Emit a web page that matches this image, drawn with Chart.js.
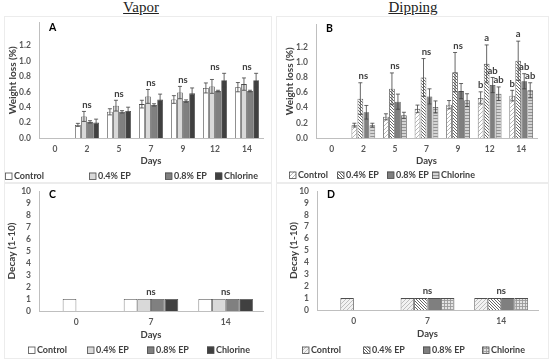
<!DOCTYPE html>
<html>
<head>
<meta charset="utf-8">
<script src="https://cdn.jsdelivr.net/npm/chart.js@4.4.0/dist/chart.umd.min.js"></script>
<style>
body{margin:0;width:550px;height:360px;background:#fff;position:relative;overflow:hidden;font-family:Lato,sans-serif}
.ttl{position:absolute;top:-1px;font:15px 'Liberation Serif',serif;text-decoration:underline;color:#222;transform:translateX(-50%)}
.box{position:absolute;border:1px solid #ececec;box-sizing:border-box}
.wrap{position:absolute}
</style>
</head>
<body>
<div class="ttl" style="left:141px">Vapor</div>
<div class="ttl" style="left:413px">Dipping</div>
<div class="box" style="left:4px;top:16px;width:268px;height:167px"></div>
<div class="box" style="left:276px;top:16px;width:273px;height:167px"></div>
<div class="box" style="left:4px;top:183px;width:268px;height:176px"></div>
<div class="box" style="left:276px;top:183px;width:273px;height:176px"></div>
<div class="wrap" style="left:5px;top:17px;width:266px;height:165px"><canvas id="cA"></canvas></div>
<div class="wrap" style="left:277px;top:17px;width:271px;height:165px"><canvas id="cB"></canvas></div>
<div class="wrap" style="left:5px;top:184px;width:266px;height:174px"><canvas id="cC"></canvas></div>
<div class="wrap" style="left:277px;top:184px;width:271px;height:174px"><canvas id="cD"></canvas></div>
<script>
// ── DATA ─────────────────────────────────────
const days = ['0', '2', '5', '7', '9', '12', '14'];
const decayDays = ['0', '7', '14'];
const seriesNames = ['Control', '0.4% EP', '0.8% EP', 'Chlorine'];

// A — vapor, weight loss (%)
const vapControl = [0, 0.17, 0.34, 0.44, 0.50, 0.65, 0.66];
const vapEP04    = [0, 0.28, 0.42, 0.54, 0.59, 0.67, 0.70];
const vapEP08    = [0, 0.21, 0.34, 0.43, 0.48, 0.61, 0.61];
const vapChlor   = [0, 0.20, 0.35, 0.50, 0.58, 0.75, 0.75];
const vapControlErr = [0, 0.02, 0.04, 0.05, 0.05, 0.065, 0.06];
const vapEP04Err    = [0, 0.065, 0.07, 0.09, 0.08, 0.09, 0.08];
const vapEP08Err    = [0, 0.015, 0.015, 0.015, 0.015, 0.01, 0.01];
const vapChlorErr   = [0, 0.045, 0.05, 0.07, 0.07, 0.09, 0.09];
const vapSig = ['', 'ns', 'ns', 'ns', 'ns', 'ns', 'ns'];

// B — dipping, weight loss (%)
const dipControl = [0, 0.17, 0.28, 0.385, 0.44, 0.53, 0.56];
const dipEP04    = [0, 0.52, 0.65, 0.80, 0.87, 0.98, 1.02];
const dipEP08    = [0, 0.34, 0.48, 0.55, 0.62, 0.70, 0.75];
const dipChlor   = [0, 0.17, 0.30, 0.41, 0.50, 0.585, 0.63];
const dipControlErr = [0, 0.025, 0.04, 0.05, 0.055, 0.08, 0.07];
const dipEP04Err    = [0, 0.21, 0.21, 0.25, 0.26, 0.25, 0.26];
const dipEP08Err    = [0, 0.09, 0.10, 0.10, 0.10, 0.10, 0.10];
const dipChlorErr   = [0, 0.025, 0.04, 0.08, 0.085, 0.09, 0.10];
const dipSig = ['', 'ns', 'ns', 'ns', 'ns', '', ''];
const dipControlSig = ['', '', '', '', '', 'b', 'b'];
const dipEP04Sig    = ['', '', '', '', '', 'a', 'a'];
const dipEP08Sig    = ['', '', '', '', '', 'ab', 'ab'];
const dipChlorSig   = ['', '', '', '', '', 'ab', 'ab'];

// C / D — decay score (1-10)
const decayControl = [1, 1, 1];
const decayEP04    = [null, 1, 1];
const decayEP08    = [null, 1, 1];
const decayChlor   = [null, 1, 1];
const decaySig = ['', 'ns', 'ns'];

// ── FILL PATTERNS ────────────────────────────
function pat(bg, fg, kind, step) {
  const c = document.createElement('canvas');
  c.width = c.height = step;
  const g = c.getContext('2d');
  g.fillStyle = bg; g.fillRect(0, 0, step, step);
  g.strokeStyle = fg; g.lineWidth = 0.9;
  g.beginPath();
  if (kind === '/')  { g.moveTo(-1, step + 1); g.lineTo(step + 1, -1); }
  if (kind === '\\') { g.moveTo(-1, -1); g.lineTo(step + 1, step + 1); }
  if (kind === '-')  { g.moveTo(0, step - 0.5); g.lineTo(step, step - 0.5); }
  if (kind === '+')  { g.moveTo(0, step - 0.5); g.lineTo(step, step - 0.5); g.moveTo(step - 0.5, 0); g.lineTo(step - 0.5, step); }
  g.stroke();
  return g.createPattern(c, 'repeat');
}
const EDGE = '#4d4d4d';
const solidStyles = ['#ffffff', '#d9d9d9', '#808080', '#404040'];
const dipStyles = [pat('#ffffff', '#b0b0b0', '/', 4), pat('#ffffff', '#555555', '\\', 3), '#7f7f7f', pat('#d4d4d4', '#8a8a8a', '-', 3)];
const decayDipStyles = [pat('#f2f2f2', '#b8b8b8', '/', 4), pat('#ffffff', '#555555', '\\', 3), '#7f7f7f', pat('#e4e4e4', '#9a9a9a', '+', 3)];

// ── PLUGIN: error bars, significance, panel letter, legend ──
const marks = {
  id: 'marks',
  afterDatasetsDraw(chart, args, o) {
    const {ctx, scales: {x, y}} = chart;
    ctx.save();
    ctx.strokeStyle = '#404040'; ctx.lineWidth = 0.8;
    chart.data.datasets.forEach((ds, di) => {
      if (!ds.err) return;
      chart.getDatasetMeta(di).data.forEach((bar, i) => {
        const v = ds.data[i], e = ds.err[i];
        if (v == null || !e) return;
        const t = y.getPixelForValue(v + e), b = y.getPixelForValue(v - e);
        ctx.beginPath();
        ctx.moveTo(bar.x, t); ctx.lineTo(bar.x, b);
        ctx.moveTo(bar.x - 2, t); ctx.lineTo(bar.x + 2, t);
        ctx.moveTo(bar.x - 2, b); ctx.lineTo(bar.x + 2, b);
        ctx.stroke();
      });
    });
    ctx.fillStyle = '#404040';
    ctx.font = 'bold 9.5px Lato';
    ctx.textAlign = 'center'; ctx.textBaseline = 'bottom';
    (o.group || []).forEach((s, i) => {
      if (!s) return;
      let top = 0;
      chart.data.datasets.forEach(ds => {
        const v = ds.data[i];
        if (v != null) top = Math.max(top, v + ((ds.err && ds.err[i]) || 0));
      });
      ctx.fillText(s, x.getPixelForValue(i), y.getPixelForValue(top) - 2);
    });
    chart.data.datasets.forEach((ds, di) => {
      if (!ds.sig) return;
      chart.getDatasetMeta(di).data.forEach((bar, i) => {
        if (!ds.sig[i]) return;
        const top = ds.data[i] + ((ds.err && ds.err[i]) || 0);
        ctx.fillText(ds.sig[i], bar.x, y.getPixelForValue(top) - 2);
      });
    });
    ctx.restore();
  },
  afterDraw(chart, args, o) {
    const {ctx, chartArea} = chart;
    ctx.save();
    ctx.fillStyle = '#000';
    ctx.font = 'bold 10.5px Lato';
    ctx.textBaseline = 'middle'; ctx.textAlign = 'left';
    ctx.fillText(o.letter, chartArea.left + 10, chartArea.top + o.letterDy);
    // legend
    ctx.font = 'bold 9px Lato';
    chart.data.datasets.forEach((ds, k) => {
      const lx = o.legendX[k], ly = o.legendY;
      ctx.fillStyle = ds.swatch || ds.backgroundColor;
      ctx.fillRect(lx, ly - 3.5, 7, 7);
      ctx.strokeStyle = EDGE; ctx.lineWidth = 0.8;
      ctx.strokeRect(lx + 0.5, ly - 3, 6.5, 6.5);
      ctx.fillStyle = '#404040';
      ctx.fillText(ds.label, lx + 9, ly + 0.5);
    });
    ctx.restore();
  }
};

const tickFont = {family: 'Lato', weight: 'bold', size: 8.5};
const titleFont = {family: 'Lato', weight: 'bold', size: 10};

function makeChart(id, labels, datasets, o) {
  return new Chart(document.getElementById(id), {
    type: 'bar',
    data: {labels, datasets},
    options: {
      responsive: true, maintainAspectRatio: false, animation: false,
      layout: {padding: {left: 0, right: o.padR, top: o.padT, bottom: o.padB}},
      datasets: {bar: {categoryPercentage: o.cat, barPercentage: o.bar, borderWidth: 0.8, borderColor: EDGE}},
      scales: {
        x: {
          grid: {display: false, drawTicks: false},
          border: {color: '#bfbfbf'},
          ticks: {padding: 6, color: '#595959', font: tickFont},
          title: {display: true, text: 'Days', color: '#404040', font: {family: 'Lato', weight: 'bold', size: 9.5}, padding: {top: 0, bottom: 1}},
          afterFit: s => { s.height = o.xH; }
        },
        y: {
          min: 0, max: o.max,
          grid: {display: false, drawTicks: false},
          border: {color: '#bfbfbf'},
          ticks: {stepSize: o.step, autoSkip: false, padding: 8, color: '#595959', font: tickFont,
            callback: v => v > o.top + 1e-6 ? null : (o.step < 1 ? v.toFixed(1) : String(v))},
          title: {display: true, text: o.yTitle, color: '#404040', font: titleFont, padding: {top: o.yTitlePad, bottom: 0}},
          afterFit: s => { s.width = o.yW; s.paddingTop = 0; s.paddingBottom = 0; }
        }
      },
      plugins: {
        legend: {display: false}, tooltip: {enabled: false},
        marks: {group: o.group, letter: o.letter, letterDy: o.letterDy, legendX: o.legendX, legendY: o.legendY}
      }
    },
    plugins: [marks]
  });
}

function weightSets(vals, errs, styles, sigs) {
  return seriesNames.map((n, k) => ({
    label: n, data: vals[k], err: errs[k], sig: sigs ? sigs[k] : null, backgroundColor: styles[k]
  }));
}

// decay: in the source figure the day-0 Control bar is drawn in the second slot of its group
function decaySets(styles) {
  const vals = [
    decayControl.map((v, i) => i === 0 ? null : v),
    decayEP04.map((v, i) => i === 0 ? decayControl[0] : v),
    decayEP08, decayChlor
  ];
  return seriesNames.map((n, k) => ({
    label: n, data: vals[k], swatch: styles[k],
    backgroundColor: k === 1 ? (c => c.dataIndex === 0 ? styles[0] : styles[1]) : styles[k]
  }));
}

makeChart('cA', days,
  weightSets([vapControl, vapEP04, vapEP08, vapChlor], [vapControlErr, vapEP04Err, vapEP08Err, vapChlorErr], solidStyles),
  {padR: 8, padT: 5.5, padB: 14, xH: 30, yW: 34, cat: 0.76, bar: 0.95, max: 1.5, top: 1.4, step: 0.2,
   yTitle: 'Weight loss (%)', yTitlePad: 2, group: vapSig, letter: 'A', letterDy: 5,
   legendX: [0, 84, 160, 210], legendY: 159});

makeChart('cB', days,
  weightSets([dipControl, dipEP04, dipEP08, dipChlor], [dipControlErr, dipEP04Err, dipEP08Err, dipChlorErr], dipStyles,
    [dipControlSig, dipEP04Sig, dipEP08Sig, dipChlorSig]),
  {padR: 11, padT: 7.5, padB: 14, xH: 30, yW: 39, cat: 0.76, bar: 0.95, max: 1.5, top: 1.4, step: 0.2,
   yTitle: 'Weight loss (%)', yTitlePad: 7, group: dipSig, letter: 'B', letterDy: 4,
   legendX: [12, 60, 110, 155], legendY: 158});

makeChart('cC', decayDays, decaySets(solidStyles),
  {padR: 8, padT: 7, padB: 16, xH: 31, yW: 34, cat: 0.73, bar: 1, max: 10, top: 10, step: 1,
   yTitle: 'Decay (1-10)', yTitlePad: 1, group: decaySig, letter: 'C', letterDy: 4,
   legendX: [23, 82, 142, 202], legendY: 166});

makeChart('cD', decayDays, decaySets(decayDipStyles),
  {padR: 10, padT: 7, padB: 17, xH: 31, yW: 40, cat: 0.73, bar: 1, max: 10, top: 10, step: 1,
   yTitle: 'Decay (1-10)', yTitlePad: 11, group: decaySig, letter: 'D', letterDy: 4,
   legendX: [25, 86, 146, 205], legendY: 166});
</script>
</body>
</html>
